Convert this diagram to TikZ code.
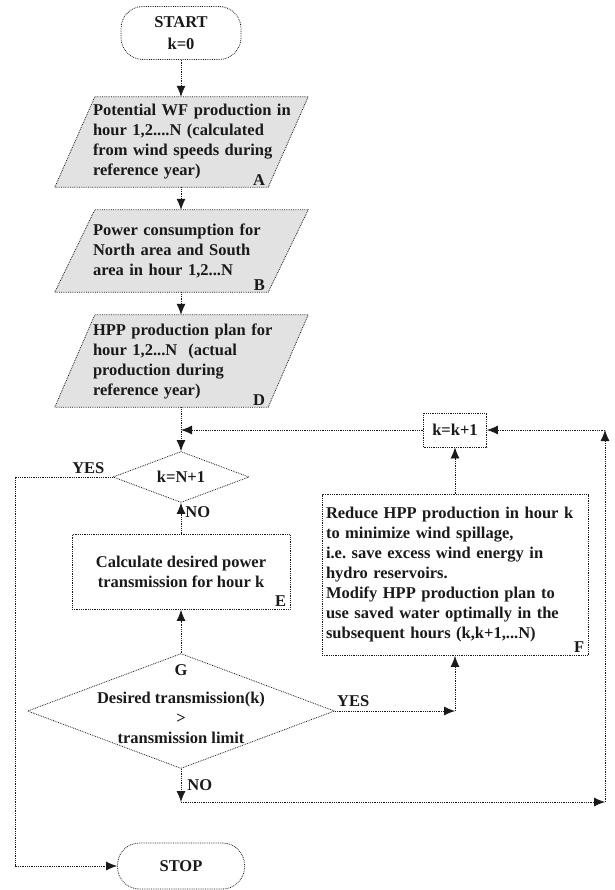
\documentclass[tikz,border=0pt]{standalone}
\usepackage{fontspec}
\setmainfont{Liberation Serif}
\usetikzlibrary{arrows.meta,calc,positioning,backgrounds,shapes.geometric}
\definecolor{ink}{HTML}{1A1A1A}
\definecolor{shade}{HTML}{E2E2E2}
\tikzset{
  dotln/.style={densely dotted,line width=0.8pt,draw=ink},
  flow/.style={dotln,-{Latex[length=11pt,width=9pt]}},
  txt/.style={font=\bfseries\fontsize{16.5pt}{20pt}\selectfont,text=ink,inner sep=0pt},
  term/.style={txt,dotln,rectangle,rounded corners=22pt,align=center},
  proc/.style={txt,dotln,rectangle,align=center},
  dec/.style={txt,dotln,diamond,aspect=2.67},
  body/.style={txt,align=left,text width=200pt,minimum width=200pt},
  lbl/.style={txt,anchor=south east}
}
\frenchspacing
\begin{document}
\begin{tikzpicture}[x=1pt,y=-1pt,>=Latex]
\useasboundingbox (0,0) rectangle (614,890);
% terminals and input data
\node[term,minimum width=120pt,minimum height=53pt] (start) at (181,33) {START\\[2pt]k=0};
\node[body,minimum height=90pt] (pa) at (193,142) {Potential WF production in\\hour 1,2....N (calculated\\from wind speeds during\\reference year)};
\node[body,minimum height=82pt] (pb) at (193,251) {Power consumption for\\North area and South\\area in hour 1,2...N};
\node[body,minimum height=92pt] (pd) at (193,361) {HPP production plan for\\hour 1,2...N~ (actual\\production during\\reference year)};
\begin{scope}[on background layer]
\foreach \n in {pa,pb,pd}{\draw[dotln,fill=shade] ([xshift=-38pt]\n.south west) -- ([xshift=2pt]\n.north west) -- ([xshift=15pt]\n.north east) -- ([xshift=-25pt]\n.south east) -- cycle;}
\end{scope}
\foreach \n/\l in {pa/A,pb/B,pd/D}{\node[lbl] at ([xshift=-28pt,yshift=1pt]\n.south east) {\l};}
% loop over hours
\node[dec,minimum width=136pt,minimum height=51pt] (last) at (181,477) {k=N+1};
\node[proc,minimum width=63pt,minimum height=34pt] (inc) at (455,430) {k=k+1};
\node[proc,minimum width=218pt,minimum height=75pt] (calc) at (181,572) {Calculate desired power\\transmission for hour k};
\node[lbl] at ([xshift=-4pt,yshift=3pt]calc.south east) {E};
\node[proc,align=left,text width=258pt,minimum width=266pt,minimum height=161pt] (redu) at (455,575) {Reduce HPP production in hour k\\to minimize wind spillage,\\i.e. save excess wind energy in\\hydro reservoirs.\\Modify HPP production plan to\\use saved water optimally in the\\subsequent hours (k,k+1,...N)};
\node[lbl] at ([xshift=-4pt,yshift=3pt]redu.south east) {F};
\node[dec,minimum width=307pt,minimum height=115pt] (lim) at (181,711) {};
\node[txt,align=center] (limq) at (181,704) {G\\[8pt]Desired transmission(k)\\>\\transmission limit};
\node[term,minimum width=127pt,minimum height=46pt] (stop) at (181,866) {STOP};
\coordinate (lft) at (15,477);
\coordinate (yr) at (455,711);
\coordinate (nb) at (181,802);
\coordinate (br) at (605,802);
\coordinate (tr) at (605,430);
% connectors
\draw[flow] (start) -- (start |- pa.north);
\draw[flow] (pa.south -| start) -- (start |- pb.north);
\draw[flow] (pb.south -| start) -- (start |- pd.north);
\draw[flow] (pd.south -| start) -- (last);
\draw[flow] (inc) -- (inc -| last);
\draw[flow] (calc) -- (last) node[pos=0.7,right=4pt,txt] {NO};
\draw[flow] (lim) -- (calc);
\draw[flow] (last.west) -- (lft) |- (stop.west);
\node[txt,above left=3pt and 8pt] at (last.west) {YES};
\draw[flow] (lim.east) -- (yr);
\node[txt,above right=4pt and 2pt] at (lim.east) {YES};
\draw[flow] (yr) -- (redu);
\draw[flow] (redu) -- (inc);
\draw[flow] (lim.south) -- (nb) node[pos=0.5,right=6pt,txt] {NO};
\draw[flow] (nb) -- (br);
\draw[flow] (br) -- (tr);
\draw[flow] (tr) -- (inc);
\end{tikzpicture}
\end{document}
